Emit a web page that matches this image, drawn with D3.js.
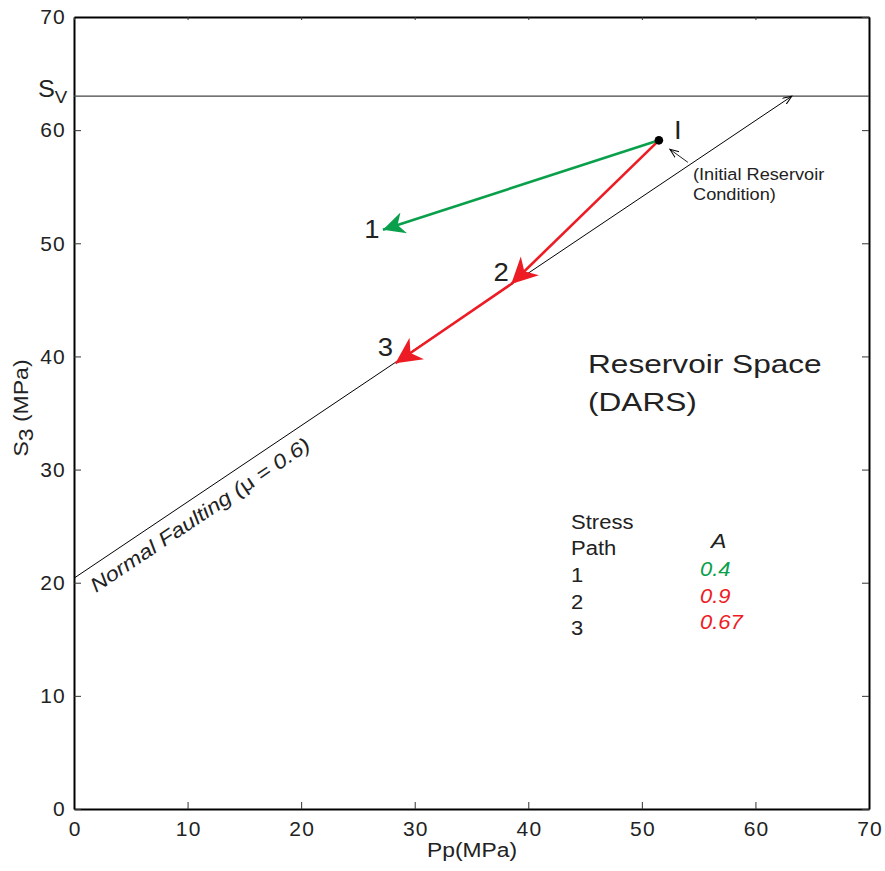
<!DOCTYPE html>
<html>
<head>
<meta charset="utf-8">
<script src="https://cdn.jsdelivr.net/npm/d3@7"></script>
<style>
  body { margin: 0; background: #fff; }
  text { font-family: "Liberation Sans", Arial, sans-serif; fill: #222; }
</style>
</head>
<body>
<div id="chart"></div>
<script>
const xTicks = [0, 10, 20, 30, 40, 50, 60, 70]
const yTicks = [0, 10, 20, 30, 40, 50, 60, 70]
const SV = 63
// normal faulting line, Pp -> S3
const faultLine = [[0, 20.4], [63.2, 63]]
const initial = [51.5, 59.1]
const pathNames = ['1', '2', '3']
const pathStart = [[51.5, 59.1], [51.5, 59.1], [38.5, 46.4]]
const pathEnd = [[27.2, 51.2], [38.5, 46.4], [28.3, 39.4]]
const pathColor = ['#0aa04b', '#ed1c24', '#ed1c24']
const pathA = ['0.4', '0.9', '0.67']

const W = 885, H = 871
const M = { left: 74, top: 17, right: 16, bottom: 62 }

const svg = d3.select('#chart').append('svg')
  .attr('width', W)
  .attr('height', H)

const x = d3.scaleLinear().domain([0, 70]).range([M.left, W - M.right])
const y = d3.scaleLinear().domain([0, 70]).range([H - M.bottom, M.top])

// text in the original is a bit wider than Arial, so stretch it sideways
const label = (px, py, str, size, opts = {}) => {
  const rot = opts.rotate ? `rotate(${opts.rotate})` : ''
  const t = svg.append('text')
    .attr('transform', `translate(${px},${py}) ${rot} scale(${opts.sx || 1.15},1)`)
    .attr('text-anchor', opts.anchor || 'start')
    .style('font-size', size + 'px')
  if (opts.italic) t.style('font-style', 'italic')
  if (opts.color) t.style('fill', opts.color)
  if (str !== null) t.text(str)
  return t
}

const defs = svg.append('defs')
pathColor.forEach((c, i) => {
  const len = i === 0 ? 22 : 26
  const hw = i === 0 ? 11 : 13
  defs.append('marker')
    .attr('id', 'head' + i)
    .attr('markerUnits', 'userSpaceOnUse')
    .attr('markerWidth', 32)
    .attr('markerHeight', 32)
    .attr('refX', len)
    .attr('refY', hw)
    .attr('orient', 'auto')
    .append('path')
      .attr('d', `M${len},${hw} L0,0 L${len * 0.3},${hw} L0,${hw * 2} Z`)
      .attr('fill', c)
})
defs.append('marker')
  .attr('id', 'thin')
  .attr('markerUnits', 'userSpaceOnUse')
  .attr('markerWidth', 12)
  .attr('markerHeight', 12)
  .attr('refX', 9)
  .attr('refY', 4)
  .attr('orient', 'auto')
  .append('path')
    .attr('d', 'M0,0.5 L9,4 L0,7.5')
    .attr('fill', 'none')
    .attr('stroke', '#000')
    .attr('stroke-width', 1)

// axes
const axB = svg.append('g')
  .attr('transform', `translate(0,${y(0)})`)
  .call(d3.axisBottom(x).tickValues(xTicks).tickSize(-7).tickPadding(12).tickSizeOuter(0))
const axL = svg.append('g')
  .attr('transform', `translate(${x(0)},0)`)
  .call(d3.axisLeft(y).tickValues(yTicks).tickSize(-7).tickPadding(8).tickSizeOuter(0))
svg.append('g')
  .attr('transform', `translate(0,${y(70)})`)
  .call(d3.axisTop(x).tickValues(xTicks).tickSize(-3).tickFormat('').tickSizeOuter(0))
svg.append('g')
  .attr('transform', `translate(${x(70)},0)`)
  .call(d3.axisRight(y).tickValues(yTicks).tickSize(-7).tickFormat('').tickSizeOuter(0))

svg.selectAll('.domain').attr('stroke', '#000').attr('stroke-width', 2)
svg.selectAll('.tick line').attr('stroke', '#333')
svg.selectAll('.tick text')
  .style('font-size', '21px')
  .style('letter-spacing', '1.2px')
  .style('font-family', '"Liberation Sans", Arial, sans-serif')
  .attr('fill', '#222')
axB.selectAll('.tick text').attr('dy', '0.71em').attr('dx', '0.6')

// Sv line
svg.append('line')
  .attr('x1', x(0)).attr('x2', x(70))
  .attr('y1', y(SV)).attr('y2', y(SV))
  .attr('stroke', '#444').attr('stroke-width', 1.2)
const sv = label(38, y(SV) + 1, null, 23, { sx: 1.1 })
sv.append('tspan').text('S')
sv.append('tspan').text('V').attr('dy', 6).style('font-size', '17px')

// normal faulting line
svg.append('line')
  .attr('x1', x(faultLine[0][0])).attr('y1', y(faultLine[0][1]))
  .attr('x2', x(faultLine[1][0])).attr('y2', y(faultLine[1][1]))
  .attr('stroke', '#000').attr('stroke-width', 1)
  .attr('marker-end', 'url(#thin)')

const ang = Math.atan2(y(faultLine[1][1]) - y(faultLine[0][1]), x(faultLine[1][0]) - x(faultLine[0][0])) * 180 / Math.PI
const nf = label(96, 593, null, 20, { rotate: ang, sx: 1.17, italic: true })
nf.append('tspan').text('Normal Faulting (')
nf.append('tspan').text('\u03bc').style('font-style', 'normal')
nf.append('tspan').text(' = 0.6)')

// stress paths
svg.selectAll('line.path')
  .data(pathStart)
  .enter()
  .append('line')
    .attr('class', 'path')
    .attr('x1', d => x(d[0]))
    .attr('y1', d => y(d[1]))
    .attr('x2', (d, i) => x(pathEnd[i][0]))
    .attr('y2', (d, i) => y(pathEnd[i][1]))
    .attr('stroke', (d, i) => pathColor[i])
    .attr('stroke-width', 2.6)
    .attr('marker-end', (d, i) => `url(#head${i})`)

const labelOff = [[-11, 8], [-10, -3], [-10, -7]]
pathNames.forEach((p, i) => {
  label(x(pathEnd[i][0]) + labelOff[i][0], y(pathEnd[i][1]) + labelOff[i][1], p, 25,
    { anchor: 'middle', sx: 1.1 })
})

// initial point
svg.append('circle')
  .attr('cx', x(initial[0])).attr('cy', y(initial[1]))
  .attr('r', 4.3).attr('fill', '#000')
label(x(initial[0]) + 15, y(initial[1]) - 1, 'I', 25, { sx: 1.1 })
svg.append('line')
  .attr('x1', x(initial[0]) + 29).attr('y1', y(initial[1]) + 22)
  .attr('x2', x(initial[0]) + 11).attr('y2', y(initial[1]) + 9)
  .attr('stroke', '#222').attr('stroke-width', 1)
  .attr('marker-end', 'url(#thin)')
label(693, 180, '(Initial Reservoir', 17, { sx: 1.07 })
label(693, 200, 'Condition)', 17, { sx: 1.07 })

// region label
label(588, 373, 'Reservoir Space', 25.5, { sx: 1.24 })
label(588, 411, '(DARS)', 25.5, { sx: 1.24 })

// table
label(571, 529, 'Stress', 19.5, { sx: 1.13 })
label(571, 555, 'Path', 19.5, { sx: 1.13 })
label(711, 548, 'A', 21, { sx: 1.1, italic: true })
pathNames.forEach((p, i) => {
  label(571, 582 + i * 26.5, p, 19.5, { sx: 1.13 })
  label(700, 576 + i * 26.5, pathA[i], 19.5, { sx: 1.13, italic: true, color: pathColor[i] })
})

// axis titles
label(472, 857, 'Pp(MPa)', 19.5, { anchor: 'middle', sx: 1.17 })
const yl = label(28, 408, null, 20, { rotate: -90, anchor: 'middle', sx: 1.15 })
yl.append('tspan').text('S')
yl.append('tspan').text('3').attr('dy', 5)
yl.append('tspan').text(' (MPa)').attr('dy', -5)
</script>
</body>
</html>
